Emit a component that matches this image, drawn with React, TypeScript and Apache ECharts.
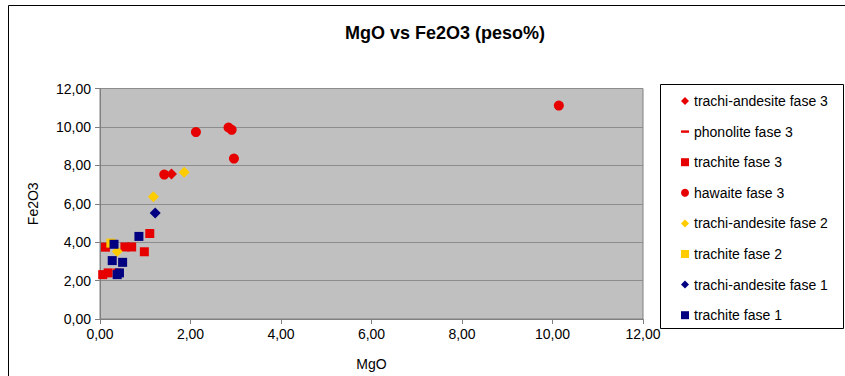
import React, { useEffect, useRef } from "react";
import * as echarts from "echarts";

const seriesNames = [
  "trachi-andesite fase 3",
  "phonolite fase 3",
  "trachite fase 3",
  "hawaite fase 3",
  "trachi-andesite fase 2",
  "trachite fase 2",
  "trachi-andesite fase 1",
  "trachite fase 1",
];

const trachiAndesite3 = [[1.58, 7.55]];
const phonolite3 = [[0.38, 2.55]];
const trachite3 = [
  [0.06, 2.31], [0.18, 2.4], [0.12, 3.74], [0.55, 3.75], [0.7, 3.75], [0.98, 3.5], [1.1, 4.45],
];
const hawaite3 = [
  [10.14, 11.11], [2.12, 9.73], [2.84, 9.97], [2.91, 9.85], [2.96, 8.35], [1.42, 7.52],
];
const trachiAndesite2 = [[1.86, 7.64], [1.18, 6.37], [0.38, 3.52]];
const trachite2 = [[0.24, 3.95]];
const trachiAndesite1 = [[1.22, 5.52]];
const trachite1 = [
  [0.86, 4.3], [0.31, 3.89], [0.27, 3.04], [0.5, 2.95], [0.38, 2.31], [0.43, 2.4],
];

const xTicks = [0, 2, 4, 6, 8, 10, 12];
const yTicks = [0, 2, 4, 6, 8, 10, 12];

const RED = "#E60000";
const YELLOW = "#FFCC00";
const NAVY = "#000080";
const DASH = "path://M0,0 H10 V3 H0 Z";
const FONT = "'Liberation Sans', Arial, sans-serif";

const fmt = (v: number) => v.toFixed(2).replace(".", ",");

export default function App() {
  const ref = useRef<HTMLDivElement>(null);
  useEffect(() => {
    if (!ref.current) return;
    const chart = echarts.init(ref.current, undefined, { renderer: "svg" });
    const defs = [
      { name: seriesNames[0], data: trachiAndesite3, symbol: "diamond", size: 11, color: RED },
      { name: seriesNames[1], data: phonolite3, symbol: DASH, size: [8, 3], color: RED },
      { name: seriesNames[2], data: trachite3, symbol: "rect", size: 9, color: RED },
      { name: seriesNames[3], data: hawaite3, symbol: "circle", size: 10, color: RED },
      { name: seriesNames[4], data: trachiAndesite2, symbol: "diamond", size: 11, color: YELLOW },
      { name: seriesNames[5], data: trachite2, symbol: "rect", size: 9, color: YELLOW },
      { name: seriesNames[6], data: trachiAndesite1, symbol: "diamond", size: 11, color: NAVY },
      { name: seriesNames[7], data: trachite1, symbol: "rect", size: 9, color: NAVY },
    ];
    chart.setOption({
      animation: false,
      textStyle: { fontFamily: FONT },
      graphic: [
        {
          type: "rect",
          shape: { x: 8.5, y: 5.5, width: 900, height: 400 },
          style: { fill: "none", stroke: "#000", lineWidth: 1 },
          silent: true,
          z: -10,
        },
        {
          type: "rect",
          shape: { x: 660.5, y: 84.5, width: 183, height: 244 },
          style: { fill: "#fff", stroke: "#000", lineWidth: 1 },
          silent: true,
          z: -5,
        },
        {
          type: "text",
          x: 445,
          y: 33,
          style: {
            text: "MgO vs Fe2O3 (peso%)",
            font: `bold 18px ${FONT}`,
            fill: "#000",
            textAlign: "center",
            textVerticalAlign: "middle",
          },
        },
      ],
      grid: {
        left: 100,
        right: 202,
        top: 88.5,
        bottom: 56.5,
        show: true,
        backgroundColor: "#C0C0C0",
        borderColor: "#808080",
        borderWidth: 1,
      },
      legend: {
        orient: "vertical",
        left: 676,
        top: 89,
        itemWidth: 8,
        itemHeight: 8,
        itemGap: 16.6,
        textStyle: { fontFamily: FONT, fontSize: 14, color: "#000" },
        data: defs.map((d) => ({ name: d.name, icon: d.symbol })),
      },
      xAxis: {
        type: "value",
        min: xTicks[0],
        max: xTicks[xTicks.length - 1],
        interval: 2,
        name: "MgO",
        nameLocation: "middle",
        nameGap: 38,
        nameTextStyle: { fontFamily: FONT, fontSize: 14, color: "#000" },
        axisLine: { show: true, lineStyle: { color: "#808080" } },
        axisTick: { show: true, length: 5, lineStyle: { color: "#808080" } },
        axisLabel: { formatter: fmt, fontFamily: FONT, fontSize: 14, color: "#000", margin: 8 },
        splitLine: { show: false },
      },
      yAxis: {
        type: "value",
        min: yTicks[0],
        max: yTicks[yTicks.length - 1],
        interval: 2,
        name: "Fe2O3",
        nameLocation: "middle",
        nameGap: 60,
        nameTextStyle: { fontFamily: FONT, fontSize: 14, color: "#000" },
        axisLine: { show: true, lineStyle: { color: "#808080" } },
        axisTick: { show: true, length: 5, lineStyle: { color: "#808080" } },
        axisLabel: { formatter: fmt, fontFamily: FONT, fontSize: 14, color: "#000", margin: 9 },
        splitLine: { show: true, lineStyle: { color: "#8C8C8C", width: 1 } },
      },
      series: defs.map((d) => ({
        type: "scatter",
        name: d.name,
        data: d.data,
        symbol: d.symbol,
        symbolSize: d.size,
        itemStyle: { color: d.color, opacity: 1 },
        emphasis: { disabled: true },
      })),
    });
    return () => chart.dispose();
  }, []);
  return (
    <div
      ref={ref}
      style={{ position: "fixed", left: 0, top: 0, width: 845, height: 376, background: "#fff" }}
    />
  );
}
